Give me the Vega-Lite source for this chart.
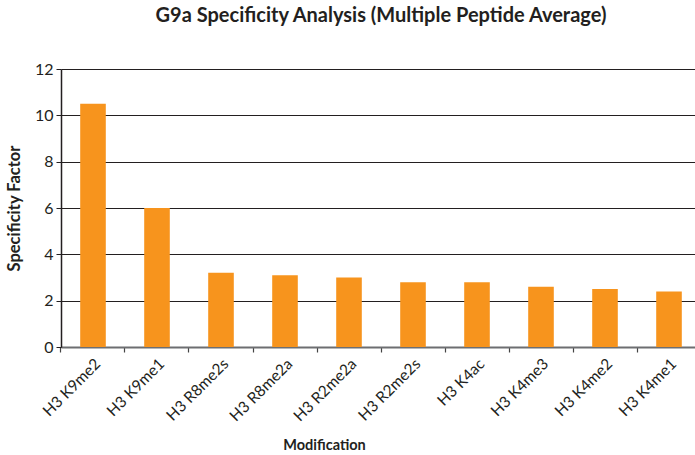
{
  "$schema": "https://vega.github.io/schema/vega-lite/v6.json",
  "autosize": "none",
  "width": 640,
  "height": 278,
  "padding": {"left": 61, "top": 69, "right": 0, "bottom": 108},
  "background": "white",
  "config": {
    "font": "Lato, sans-serif",
    "view": {"stroke": null}
  },
  "title": {
    "text": "G9a Specificity Analysis (Multiple Peptide Average)",
    "fontSize": 20,
    "fontWeight": "bold",
    "color": "#231F20",
    "anchor": "middle",
    "baseline": "alphabetic",
    "offset": 19
  },
  "data": {
    "values": [
      {"mod": "H3 K9me2", "value": 10.5},
      {"mod": "H3 K9me1", "value": 6.0},
      {"mod": "H3 R8me2s", "value": 3.2},
      {"mod": "H3 R8me2a", "value": 3.1},
      {"mod": "H3 R2me2a", "value": 3.0},
      {"mod": "H3 R2me2s", "value": 2.8},
      {"mod": "H3 K4ac", "value": 2.8},
      {"mod": "H3 K4me3", "value": 2.6},
      {"mod": "H3 K4me2", "value": 2.5},
      {"mod": "H3 K4me1", "value": 2.4}
    ]
  },
  "encoding": {
    "y": {
      "field": "value", "type": "quantitative",
      "scale": {"domain": [0, 12]},
      "axis": {
        "values": [0, 2, 4, 6, 8, 10, 12],
        "grid": true, "gridColor": "#231F20", "gridWidth": 1, "gridOpacity": 1,
        "domain": true, "domainColor": "#231F20", "domainWidth": 1.5,
        "ticks": true, "tickSize": 5, "tickColor": "#231F20",
        "labelFontSize": 16, "labelColor": "#231F20", "labelPadding": 3,
        "title": "Specificity Factor", "titleFontSize": 16.5, "titleFontWeight": "bold",
        "titleColor": "#231F20", "titleX": -42, "titleY": 139,
        "titleBaseline": "alphabetic", "titleAlign": "center", "titleAngle": -90
      }
    }
  },
  "layer": [
    {
      "mark": {"type": "bar", "opacity": 0},
      "encoding": {
        "x": {
          "field": "mod", "type": "nominal", "sort": null,
          "scale": {"paddingInner": 0.6, "paddingOuter": 0.3},
          "axis": {
            "orient": "bottom", "bandPosition": -0.75, "labels": false, "title": null,
            "ticks": true, "tickSize": 5, "tickColor": "#444", "tickWidth": 1.2,
            "domain": true, "domainColor": "#6d6e71", "domainWidth": 2, "grid": false
          }
        }
      }
    },
    {
      "mark": {"type": "bar", "color": "#F7941D"},
      "encoding": {
        "x": {
          "field": "mod", "type": "nominal", "sort": null,
          "axis": {
            "orient": "bottom", "ticks": false, "domain": false,
            "labelAngle": -45, "labelAlign": "right", "labelBaseline": "top",
            "labelPadding": 9, "labelFontSize": 15.5, "labelColor": "#231F20",
            "title": "Modification", "titleFontSize": 14.5, "titleFontWeight": "bold",
            "titleColor": "#231F20", "titleX": 263, "titleY": 102,
            "titleBaseline": "alphabetic", "titleAlign": "center"
          }
        }
      }
    }
  ],
  "resolve": {"axis": {"x": "independent"}}
}
